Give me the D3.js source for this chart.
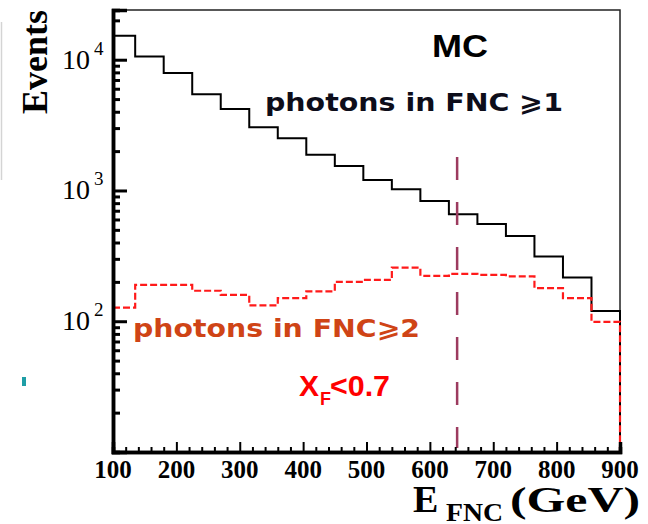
<!DOCTYPE html>
<html>
<head>
<meta charset="utf-8">
<script src="https://cdn.jsdelivr.net/npm/d3@7"></script>
<style>
  html, body { margin: 0; padding: 0; background: #fff; }
  svg { display: block; }
</style>
</head>
<body>
<svg id="chart" width="648" height="524"></svg>
<script>
// ---- data ----
const binEdges = [90, 135, 180, 225, 270, 315, 360, 405, 450, 495, 540, 585, 630, 675, 720, 765, 810, 855, 900];
const photons1 = [15240, 10580, 7900, 5455, 4190, 3050, 2512, 1872, 1542, 1205, 1023, 832, 659, 555, 449, 312, 216, 120];
const photons2 = [127, 190, 190, 171, 159, 132, 150, 169, 200, 207, 257, 222, 230, 226, 220, 179, 150, 99];
const xTicksMajor = [100, 200, 300, 400, 500, 600, 700, 800, 900];
const xTicksMinor = [120,140,160,180,220,240,260,280,320,340,360,380,420,440,460,480,520,540,560,580,620,640,660,680,720,740,760,780,820,840,860,880];
const yTicksMajor = [100, 1000, 10000];
const yTickExp = ["2", "3", "4"];
const yTicksMinor = [20,30,40,50,60,70,80,90,200,300,400,500,600,700,800,900,2000,3000,4000,5000,6000,7000,8000,9000,20000];
const xDomain = [100, 900];
const yDomain = [10, 24000];
const cutX = 643;
const cutTop = 1800;
const labelMC = "MC";
const label1 = "photons in FNC \u2A7E1";
const label2 = "photons in FNC\u2A7E2";

// ---- layout ----
const L = 113, R = 620, T = 10, B = 452;
const svg = d3.select("#chart");
const x = d3.scaleLinear().domain(xDomain).range([L, R]);
const y = d3.scaleLog().domain(yDomain).range([B, T]);

// artifacts at the left edge of the reference
svg.append("line").attr("x1", 1.5).attr("x2", 1.5).attr("y1", 22).attr("y2", 180)
  .attr("stroke", "#d4d4d4").attr("stroke-width", 1.5);
svg.append("rect").attr("x", 22).attr("y", 377).attr("width", 4).attr("height", 9).attr("fill", "#1f9ea6");

// frame
svg.append("rect").attr("x", L).attr("y", T).attr("width", R - L).attr("height", B - T)
  .attr("fill", "none").attr("stroke", "#222").attr("stroke-width", 1.5);

// step path builder
function stepPath(vals) {
  const p = d3.path();
  vals.forEach((v, i) => {
    const x0 = x(Math.max(binEdges[i], xDomain[0]));
    const x1 = x(binEdges[i + 1]);
    if (i === 0) p.moveTo(x0, y(v)); else p.lineTo(x0, y(v));
    p.lineTo(x1, y(v));
  });
  p.lineTo(x(binEdges[binEdges.length - 1]), y(yDomain[0]));
  return p.toString();
}

svg.append("path").attr("d", stepPath(photons1)).attr("fill", "none")
  .attr("stroke", "#000").attr("stroke-width", 2);
svg.append("path").attr("d", stepPath(photons2)).attr("fill", "none")
  .attr("stroke", "#ff1a1a").attr("stroke-width", 2.2).attr("stroke-dasharray", "7,3");

// cut line
svg.append("line").attr("x1", x(cutX)).attr("x2", x(cutX)).attr("y1", y(cutTop)).attr("y2", B - 4)
  .attr("stroke", "#9c3b5f").attr("stroke-width", 2.5).attr("stroke-dasharray", "23,22");

// axes
const gy = svg.append("g").attr("transform", `translate(${L},0)`);
gy.call(d3.axisLeft(y).tickValues(yTicksMajor).tickSize(-14).tickFormat(""));
const gy2 = svg.append("g").attr("transform", `translate(${L},0)`);
gy2.call(d3.axisLeft(y).tickValues(yTicksMinor).tickSize(-7).tickFormat(""));
[gy, gy2].forEach(g => {
  g.select(".domain").attr("stroke", "#000").attr("stroke-width", 3.5);
  g.selectAll(".tick line").attr("stroke", "#000").attr("stroke-width", 3);
});

const gx = svg.append("g").attr("transform", `translate(0,${B})`);
gx.call(d3.axisBottom(x).tickValues(xTicksMajor).tickSize(-10).tickFormat(""));
const gx2 = svg.append("g").attr("transform", `translate(0,${B})`);
gx2.call(d3.axisBottom(x).tickValues(xTicksMinor).tickSize(-5).tickFormat(""));
[gx, gx2].forEach(g => {
  g.select(".domain").attr("stroke", "#000").attr("stroke-width", 3.5);
  g.selectAll(".tick line").attr("stroke", "#000").attr("stroke-width", 2);
});

// x tick labels
svg.append("g").selectAll("text").data(xTicksMajor).join("text")
  .attr("x", d => x(d)).attr("y", 478).attr("text-anchor", "middle")
  .attr("font-family", "Liberation Serif").attr("font-weight", "bold").attr("font-size", 25)
  .text(d => d);

// y tick labels 10^n
const yl = svg.append("g").selectAll("g").data(yTicksMajor).join("g");
yl.append("text").attr("x", 90).attr("y", d => y(d) + 9).attr("text-anchor", "end")
  .attr("font-family", "Liberation Serif").attr("font-size", 28).text("10");
yl.append("text").attr("x", 94).attr("y", d => y(d) - 5)
  .attr("font-family", "Liberation Serif").attr("font-size", 19).text((d, i) => yTickExp[i]);

// axis titles
svg.append("text").attr("transform", "translate(47,62) rotate(-90)").attr("text-anchor", "middle")
  .attr("font-family", "Liberation Serif").attr("font-weight", "bold").attr("font-size", 36)
  .text("Events");
const xt = svg.append("g").attr("font-family", "Liberation Serif").attr("font-weight", "bold");
xt.append("text").attr("x", 413).attr("y", 512).attr("font-size", 38).text("E");
xt.append("text").attr("x", 446).attr("y", 521).attr("font-size", 25)
  .attr("textLength", 57).attr("lengthAdjust", "spacingAndGlyphs").text("FNC");
xt.append("text").attr("x", 510).attr("y", 512).attr("font-size", 36)
  .attr("textLength", 130).attr("lengthAdjust", "spacingAndGlyphs").text("(GeV)");

// annotations
svg.append("text").attr("x", 432).attr("y", 57).attr("font-family", "Liberation Sans")
  .attr("font-weight", "bold").attr("font-size", 32).attr("textLength", 56)
  .attr("lengthAdjust", "spacingAndGlyphs").text(labelMC);
svg.append("text").attr("x", 265).attr("y", 111).attr("font-family", "DejaVu Sans")
  .attr("font-weight", "bold").attr("font-size", 25).attr("fill", "#0d0d1a")
  .attr("textLength", 298).attr("lengthAdjust", "spacingAndGlyphs").text(label1);
svg.append("text").attr("x", 133).attr("y", 337).attr("font-family", "DejaVu Sans")
  .attr("font-weight", "bold").attr("font-size", 24).attr("fill", "#cf4416")
  .attr("textLength", 287).attr("lengthAdjust", "spacingAndGlyphs").text(label2);
const xf = svg.append("g").attr("font-family", "Liberation Sans").attr("font-weight", "bold").attr("fill", "#ff0000");
xf.append("text").attr("x", 299).attr("y", 396).attr("font-size", 30).text("X");
xf.append("text").attr("x", 320).attr("y", 405).attr("font-size", 18).text("F");
xf.append("text").attr("x", 330).attr("y", 396).attr("font-size", 30)
  .attr("textLength", 60).attr("lengthAdjust", "spacingAndGlyphs").text("<0.7");
</script>
</body>
</html>
